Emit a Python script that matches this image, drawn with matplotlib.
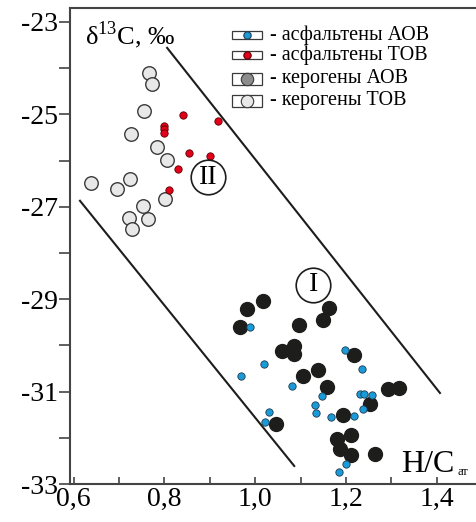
import matplotlib
matplotlib.use("Agg")
import matplotlib.pyplot as plt
from matplotlib.patches import Rectangle
from matplotlib.ticker import FixedLocator, FuncFormatter

plt.rcParams["font.family"] = ["Liberation Serif", "DejaVu Serif"]
plt.rcParams["mathtext.fontset"] = "custom"
plt.rcParams["mathtext.rm"] = "Liberation Serif"
plt.rcParams["axes.unicode_minus"] = False

# kerogens TOB (light grey)
ker_tov_x = [0.765, 0.773, 0.754, 0.726, 0.783, 0.805, 0.638, 0.724, 0.696, 0.801, 0.752, 0.723, 0.763, 0.728]
ker_tov_y = [-24.10, -24.35, -24.93, -25.42, -25.71, -25.99, -26.48, -26.40, -26.62, -26.84, -26.98, -27.25, -27.27, -27.49]

# asphaltenes TOB (red)
asph_tov_x = [0.841, 0.919, 0.798, 0.798, 0.798, 0.855, 0.900, 0.831, 0.809]
asph_tov_y = [-25.02, -25.15, -25.25, -25.32, -25.40, -25.83, -25.91, -26.18, -26.64]

# kerogens AOB (black)
ker_aov_x = [1.017, 0.981, 0.967, 1.097, 1.162, 1.150, 1.058, 1.086, 1.086, 1.218, 1.139, 1.105,
             1.159, 1.293, 1.317, 1.253, 1.194, 1.045, 1.181, 1.212, 1.187, 1.212, 1.264]
ker_aov_y = [-29.03, -29.22, -29.60, -29.55, -29.18, -29.44, -30.12, -30.01, -30.19, -30.21, -30.53, -30.66,
             -30.89, -30.95, -30.92, -31.27, -31.50, -31.70, -32.02, -31.95, -32.24, -32.38, -32.34]

# asphaltenes AOB (blue)
asph_aov_x = [0.989, 1.019, 0.969, 1.198, 1.235, 1.080, 1.148, 1.231, 1.240, 1.257, 1.132, 1.133,
              1.168, 1.218, 1.238, 1.030, 1.021, 1.200, 1.185]
asph_aov_y = [-29.60, -30.40, -30.66, -30.10, -30.52, -30.88, -31.09, -31.06, -31.06, -31.07, -31.28, -31.47,
              -31.56, -31.52, -31.37, -31.45, -31.66, -32.57, -32.73]

# field boundaries
upper_x = [0.806, 1.407]
upper_y = [-23.56, -31.03]
lower_x = [0.614, 1.086]
lower_y = [-26.87, -32.61]

fig = plt.figure(figsize=(4.77, 5.22), dpi=100)
ax = fig.add_axes([70 / 477, 38 / 522, 407 / 477, 476 / 522])

ax.plot(upper_x, upper_y, color="#1d1d1b", lw=1.5)
ax.plot(lower_x, lower_y, color="#1d1d1b", lw=1.5)

ax.scatter(ker_tov_x, ker_tov_y, s=95, c="#e8e8e8", edgecolors="#3a3a3a", linewidths=1.0, zorder=3)
ax.scatter(ker_aov_x, ker_aov_y, s=100, c="#1d1d1b", edgecolors="#1d1d1b", linewidths=1.0, zorder=3)
ax.scatter(asph_tov_x, asph_tov_y, s=28, c="#e2001a", edgecolors="#5a0000", linewidths=0.6, zorder=4)
ax.scatter(asph_aov_x, asph_aov_y, s=28, c="#1a9ad7", edgecolors="#1d3a50", linewidths=0.6, zorder=4)

# circled field numbers
for cx, cy, lab in [(0.896, -26.36, "II"), (1.128, -28.69, "I")]:
    ax.scatter([cx], [cy], s=620, c="white", edgecolors="#1d1d1b", linewidths=1.2, zorder=5)
    ax.text(cx, cy, lab, fontsize=20, ha="center", va="center", zorder=6)

ax.set_xlim(0.592, 1.4886)
ax.set_ylim(-33, -22.697)

ax.xaxis.set_major_locator(FixedLocator([0.6, 0.7, 0.8, 0.9, 1.0, 1.1, 1.2, 1.3, 1.4]))
ax.xaxis.set_major_formatter(FuncFormatter(
    lambda v, p: ("%.1f" % v).replace(".", ",") if round(v * 10) % 2 == 0 else ""))
ax.yaxis.set_major_locator(FixedLocator(list(range(-33, -22))))
ax.yaxis.set_major_formatter(FuncFormatter(lambda v, p: "%d" % v if int(round(v)) % 2 else ""))

ax.tick_params(axis="x", direction="in", length=5, width=1.2, labelsize=20, pad=2, color="#444444")
ax.tick_params(axis="y", direction="out", length=8, width=1.2, labelsize=20, pad=1, color="#444444")

for side in ["left", "bottom", "top"]:
    ax.spines[side].set_color("#444444")
    ax.spines[side].set_linewidth(1.5)
ax.spines["right"].set_visible(False)

ax.text(0.036, 0.943, "δ$^{13}$C, ‰", transform=ax.transAxes, fontsize=19, va="center", ha="left")
ax.text(0.814, 0.025, "H/C", transform=ax.transAxes, fontsize=23, va="baseline", ha="left")
ax.text(0.952, 0.019, "ат", transform=ax.transAxes, fontsize=9, va="baseline", ha="left")

# legend
legend_rows = [
    ("- асфальтены АОВ", "#1a9ad7", "#1d3a50", 28, 0.943, 0.0168),
    ("- асфальтены ТОВ", "#e2001a", "#5a0000", 28, 0.901, 0.0168),
    ("- керогены АОВ", "#8c8c8c", "#3a3a3a", 80, 0.851, 0.0252),
    ("- керогены ТОВ", "#e8e8e8", "#3a3a3a", 80, 0.805, 0.0252),
]
for lab, fc, ec, sz, ry, rh in legend_rows:
    ax.add_patch(Rectangle((0.398, ry - rh / 2), 0.0737, rh, transform=ax.transAxes,
                           fill=False, ec="#3a3a3a", lw=0.9, zorder=6))
    ax.scatter([0.435], [ry], s=sz, c=fc, edgecolors=ec, linewidths=0.8,
               transform=ax.transAxes, zorder=7, clip_on=False)
    ax.text(0.491, ry, lab, transform=ax.transAxes, fontsize=14.5, va="center", ha="left")

fig.savefig("out.png", dpi=100)
